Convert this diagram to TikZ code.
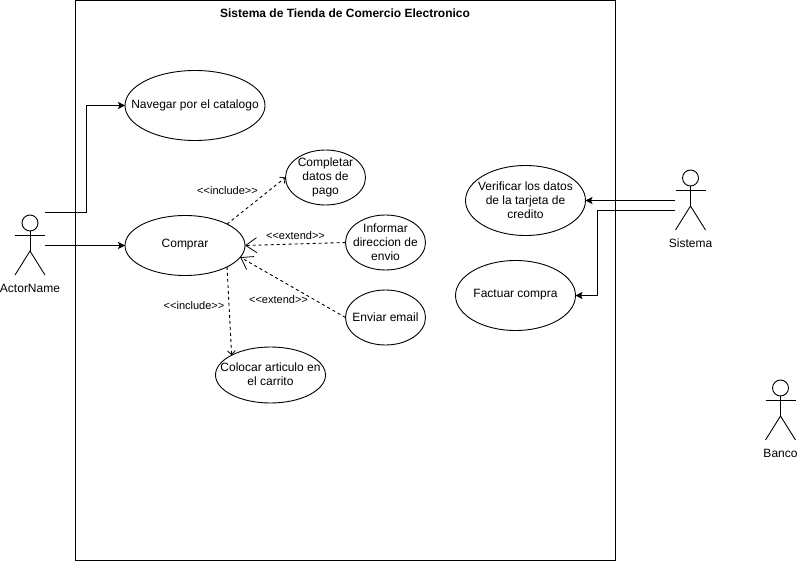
\documentclass[tikz,border=0pt]{standalone}
\usepackage{fontspec}
\setmainfont{Liberation Sans}
\usetikzlibrary{arrows.meta,shapes.geometric}
\tikzset{
  x=1pt,y=-1pt,
  every path/.style={line width=0.9pt},
  lbl/.style={font=\fontsize{12}{14}\selectfont,inner sep=0pt},
  stereo/.style={font=\fontsize{11}{13}\selectfont,inner sep=0pt},
  ucshape/.style={draw,ellipse,inner sep=0pt,outer sep=0pt},
  uctext/.style={align=center,font=\fontsize{12}{14}\selectfont,inner sep=0pt,yshift=0.5pt},
  assoc/.style={-{Stealth[length=7pt,width=7pt,inset=1.5pt]}},
  dep/.style={dash pattern=on 3pt off 3pt,-{Straight Barb[length=4pt,width=8pt,line width=0.8pt]}},
  depbig/.style={dash pattern=on 3pt off 3pt,-{Straight Barb[length=11pt,width=15pt,line width=0.8pt]}},
}
\newcommand{\stick}[3]{%
  \draw (#2,#3+8) circle[radius=8];
  \draw (#2,#3+16) -- (#2,#3+36);
  \draw (#2-15,#3+20) -- (#2+15,#3+20);
  \draw (#2-15,#3+60) -- (#2,#3+36) -- (#2+15,#3+60);
}
\newcommand{\uc}[6]{%
  \node[ucshape,minimum width=#4*2pt,minimum height=#5*2pt] (#1) at (#2,#3) {};
  \node[uctext] (#1-t) at (#2,#3) {#6};}
\begin{document}
\begin{tikzpicture}
\useasboundingbox (0,0) rectangle (797,561);
\fill[white] (0,0) rectangle (797,561);
\node[draw,minimum width=540pt,minimum height=560pt,inner sep=0pt,outer sep=0pt,anchor=north west] (sys) at (75.5,0.5) {};
\node[font=\bfseries\fontsize{12}{14}\selectfont,inner sep=0pt] (title) at (345,13) {Sistema de Tienda de Comercio Electronico};

\stick{act}{30}{215}
\stick{sis}{690.5}{170}
\stick{ban}{780.5}{380}
\node[lbl] (lact) at (30,288) {ActorName};
\node[lbl] (lsis) at (690.5,243) {Sistema};
\node[lbl] (lban) at (780.5,453) {Banco};

\uc{nav}{195}{105.5}{70}{35}{Navegar por el catalogo}
\uc{com}{185}{245.5}{60}{30}{Comprar}
\uc{cpl}{325.5}{177.5}{40}{27.5}{Completar\\datos de\\pago}
\uc{inf}{385.5}{242.5}{40}{27.5}{Informar\\direccion de\\envio}
\uc{env}{385.5}{317.5}{40}{27.5}{Enviar email}
\uc{col}{270.5}{375}{55}{28}{Colocar articulo en\\el carrito}
\uc{ver}{525.5}{200.5}{60}{35}{Verificar los datos\\de la tarjeta de\\credito}
\uc{fac}{515.5}{295.5}{60}{35}{Factuar compra}

\coordinate (a1) at (45,212);
\coordinate (a2) at (45,245.5);
\coordinate (s1) at (675,200.5);
\coordinate (s2) at (675,210.5);
\draw[assoc] (a1) -- (86.5,212) |- (nav.west);
\draw[assoc] (a2) -- (com.west);
\draw[assoc] (s1) -- (ver.east);
\draw[assoc] (s2) -- (597,210.5) |- (fac.east);

\draw[dep] (com.27) -- (cpl.west);
\draw[depbig] (inf.west) -- (com.east);
\draw[depbig] (env.west) -- (com.-12);
\draw[dep] (com.-27) -- (col.153);

\node[stereo] (s-a) at (227.5,190.5) {<{}<include>{}>};
\node[stereo] (s-b) at (194,305.5) {<{}<include>{}>};
\node[stereo] (s-c) at (295.5,235.5) {<{}<extend>{}>};
\node[stereo] (s-d) at (278.5,299.5) {<{}<extend>{}>};
\end{tikzpicture}
\end{document}
